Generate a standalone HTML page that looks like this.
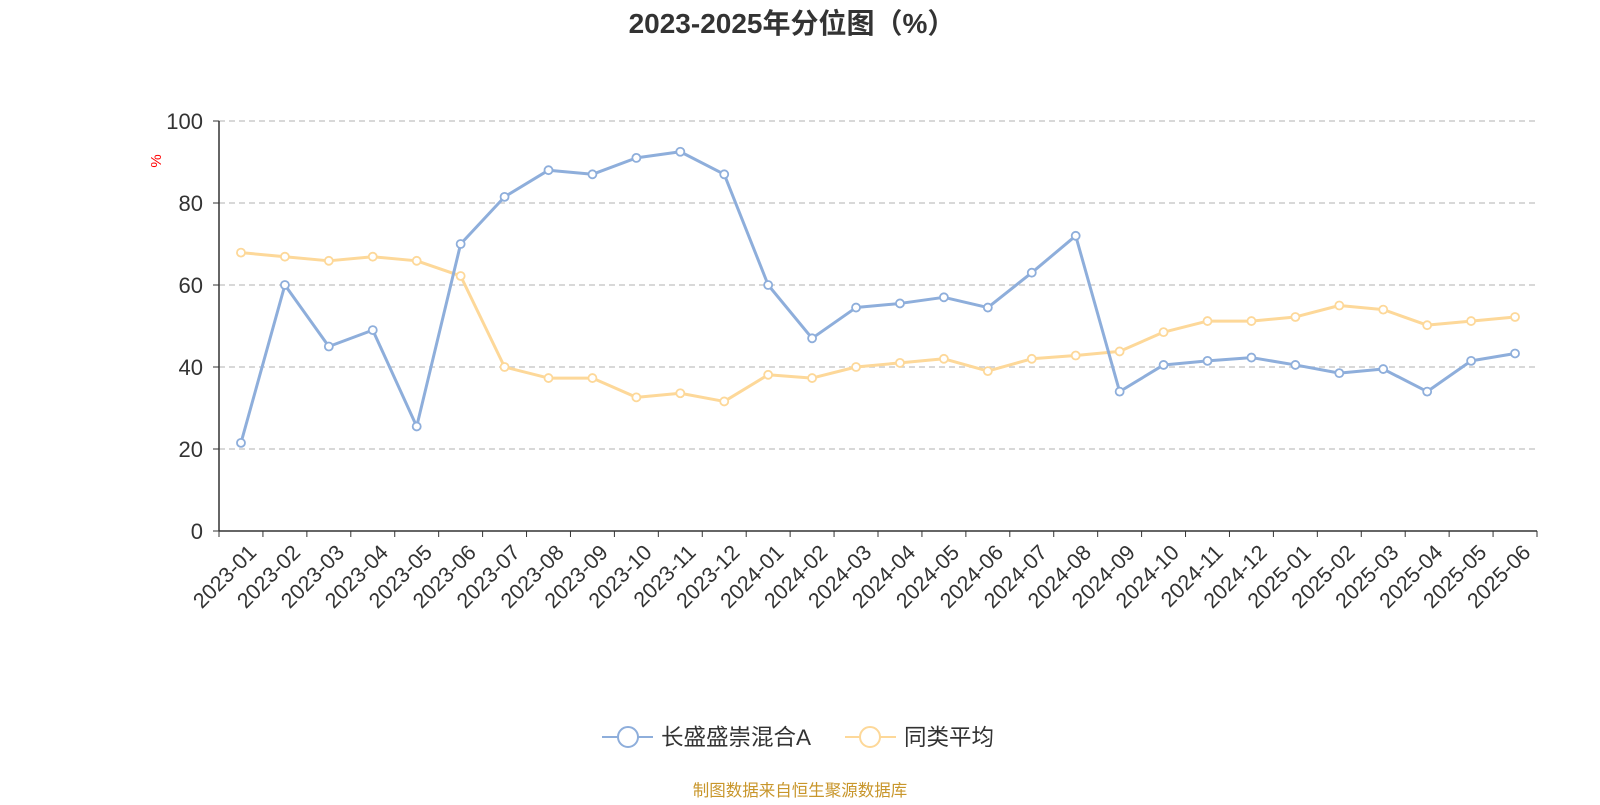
<!DOCTYPE html>
<html><head><meta charset="utf-8"><style>
body{margin:0;background:#fff;width:1600px;height:800px;overflow:hidden;font-family:"Liberation Sans","Noto Sans CJK SC",sans-serif}
</style></head><body>
<svg width="1600" height="800" xmlns="http://www.w3.org/2000/svg" font-family="Liberation Sans, Noto Sans CJK SC, sans-serif">
<text x="792" y="33" text-anchor="middle" font-size="28" font-weight="bold" fill="#333">2023-2025年分位图（%）</text>
<text x="161" y="161" font-size="15" fill="red" transform="rotate(-90 161 161)" text-anchor="middle">%</text>
<g id="grid"></g><g id="axes"></g><g id="series"></g>
<g>
<g><line x1="602" y1="737" x2="653" y2="737" stroke="#8eaedb" stroke-width="2"/><circle cx="628" cy="737" r="10" fill="#fff" stroke="#8eaedb" stroke-width="2"/><text x="661" y="745" font-size="22.5" fill="#333">长盛盛崇混合A</text></g>
<g><line x1="845" y1="737" x2="896" y2="737" stroke="#fdd899" stroke-width="2"/><circle cx="870" cy="737" r="10" fill="#fff" stroke="#fdd899" stroke-width="2"/><text x="904" y="745" font-size="22.5" fill="#333">同类平均</text></g>
</g>
<text x="800" y="796" text-anchor="middle" font-size="16.5" fill="#c8962b">制图数据来自恒生聚源数据库</text>
</svg>
<script>
const categories=["2023-01","2023-02","2023-03","2023-04","2023-05","2023-06","2023-07","2023-08","2023-09","2023-10","2023-11","2023-12","2024-01","2024-02","2024-03","2024-04","2024-05","2024-06","2024-07","2024-08","2024-09","2024-10","2024-11","2024-12","2025-01","2025-02","2025-03","2025-04","2025-05","2025-06"];
const fundValues=[21.5,60,45,49,25.5,70,81.5,88,87,91,92.5,87,60,47,54.5,55.5,57,54.5,63,72,34,40.5,41.5,42.3,40.5,38.5,39.5,34,41.5,43.3];
const avgValues=[67.9,66.9,65.9,66.9,65.9,62.2,40,37.3,37.3,32.6,33.6,31.6,38.1,37.3,40,41,42,39,42,42.8,43.8,48.5,51.2,51.2,52.2,55,54,50.2,51.2,52.2];
const yTicks=[0,20,40,60,80,100];
const NS="http://www.w3.org/2000/svg";
const L=219,R=1537,T=121,B=531,band=(R-L)/categories.length;
const x=i=>L+band*(i+0.5), y=v=>B-(v/100)*(B-T);
function mk(tag,attrs,parent){const e=document.createElementNS(NS,tag);for(const k in attrs)e.setAttribute(k,attrs[k]);parent.appendChild(e);return e;}
const grid=document.getElementById('grid'),axes=document.getElementById('axes'),ser=document.getElementById('series');
yTicks.forEach(t=>{
 if(t>0){const g=mk('line',{x1:L,x2:R,y1:y(t),y2:y(t),stroke:'#ccc','stroke-dasharray':'6,4','stroke-width':1.5},grid);
 
 }
 const tx=mk('text',{x:L-16,y:y(t)+8,'text-anchor':'end','font-size':22,fill:'#333'},axes);tx.textContent=t;
 
 
 mk('line',{x1:L-6,x2:L,y1:y(t),y2:y(t),stroke:'#333'},axes);
});
const ya=mk('line',{x1:L,x2:L,y1:T,y2:B,stroke:'#333','stroke-width':1.5},axes);


const xa=mk('line',{x1:L,x2:R,y1:B,y2:B,stroke:'#333','stroke-width':1.5},axes);


for(let i=0;i<=categories.length;i++)mk('line',{x1:L+band*i,x2:L+band*i,y1:B,y2:B+6,stroke:'#333'},axes);
categories.forEach((c,i)=>{const px=x(i)+6,py=B+12;
 const t=mk('text',{x:px,y:py,'text-anchor':'end','font-size':21.5,fill:'#333',transform:`rotate(-45 ${px} ${py})`,'dominant-baseline':'hanging'},axes);t.textContent=c;
 
 
});
function draw(vals,color,name){
 const p=mk('polyline',{points:vals.map((v,i)=>x(i)+','+y(v)).join(' '),fill:'none',stroke:color,'stroke-width':3,'stroke-linejoin':'round'},ser);
 
 
 vals.forEach((v,i)=>{const c=mk('circle',{cx:x(i),cy:y(v),r:4,fill:'#fff',stroke:color,'stroke-width':1.8},ser);
  
  });
}
draw(avgValues,'#fdd899','average');
draw(fundValues,'#8eaedb','fund');
</script>
</body></html>
